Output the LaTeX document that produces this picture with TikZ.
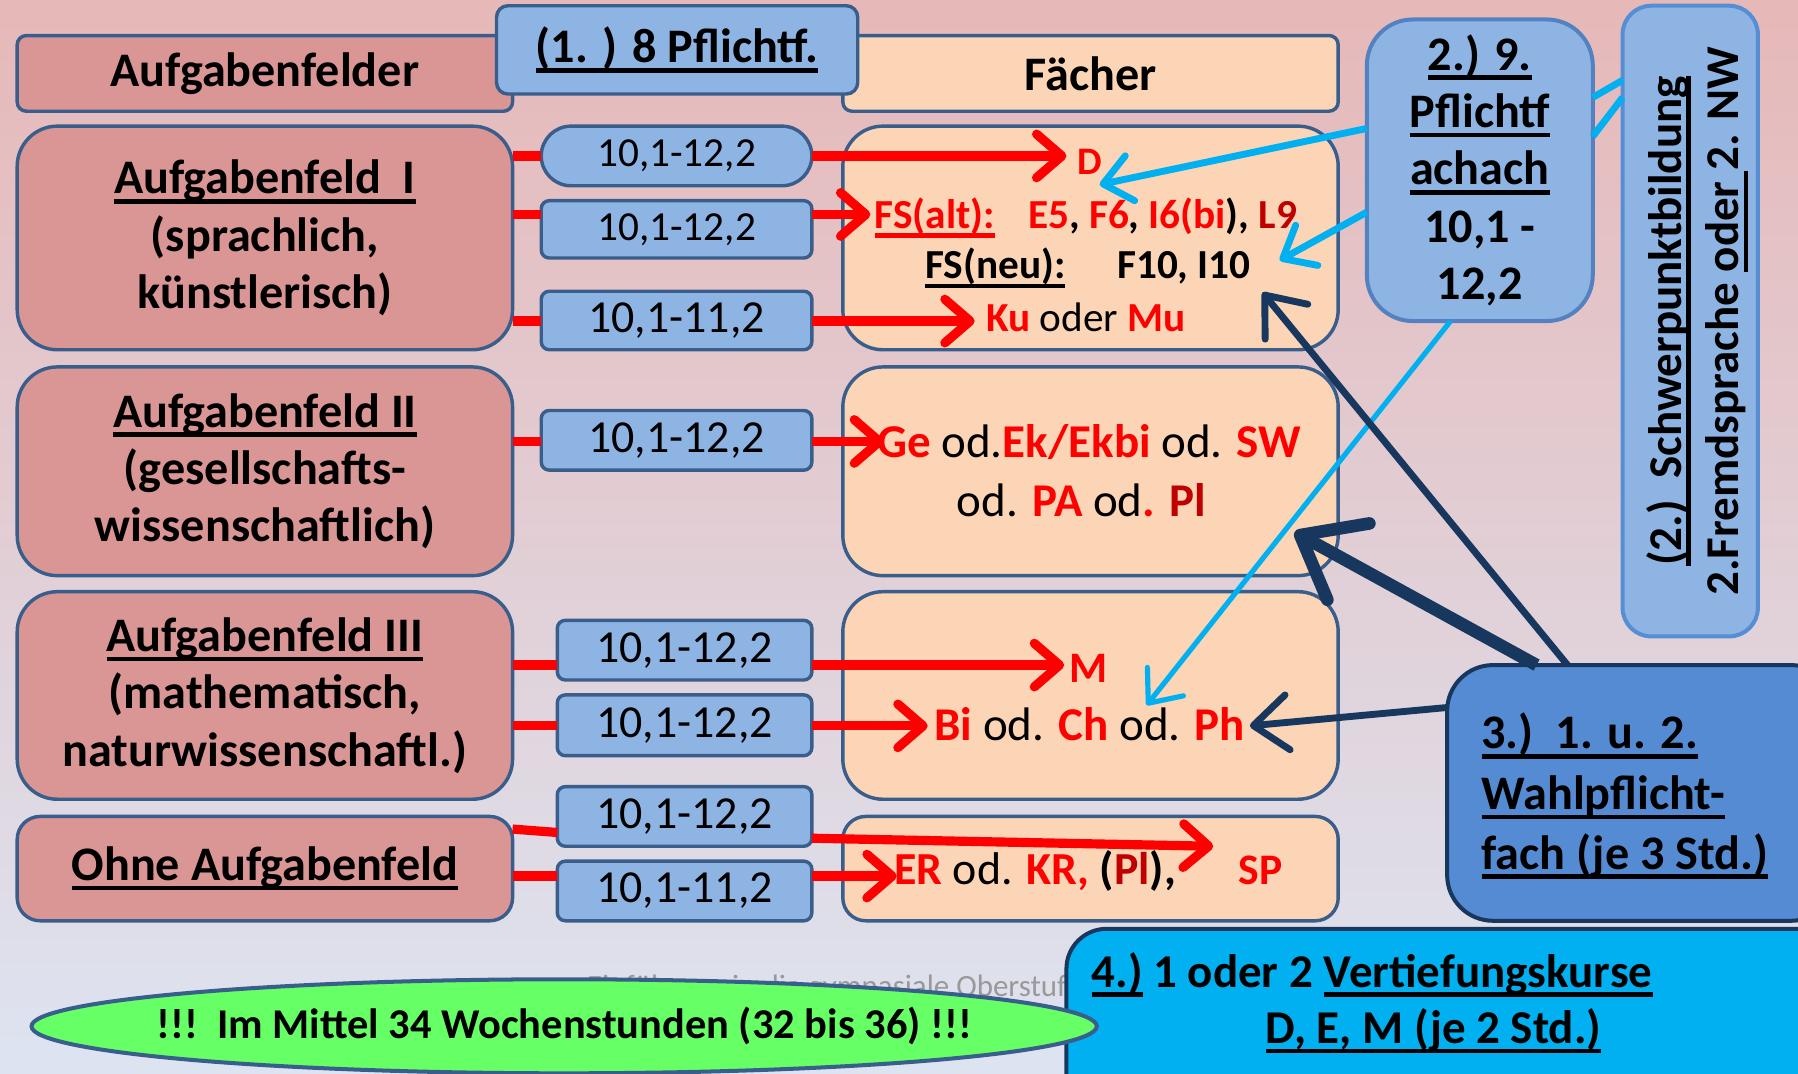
\documentclass[tikz,border=0pt]{standalone}
\usepackage{fontspec}
\setmainfont{Carlito}
\usetikzlibrary{arrows.meta,shapes.geometric}
\definecolor{bgtop}{RGB}{230,184,184}
\definecolor{bgmid}{RGB}{227,201,206}
\definecolor{bgbot}{RGB}{221,228,241}
\definecolor{bord}{HTML}{3A5E8C}
\definecolor{rosefill}{HTML}{D99694}
\definecolor{peachfill}{HTML}{FBD5B5}
\definecolor{lblue}{HTML}{8EB4E3}
\definecolor{pbord}{HTML}{5482C0}
\definecolor{vbord}{HTML}{558ED5}
\definecolor{mblue}{HTML}{558BD3}
\definecolor{navy}{HTML}{17375E}
\definecolor{cyanc}{HTML}{00B0F0}
\definecolor{greenc}{HTML}{66FF66}
\definecolor{dred}{HTML}{C00000}
\newcommand{\myul}[1]{\begingroup\setbox0=\hbox{#1}\rlap{\rule[-8.5pt]{\wd0}{4pt}}\box0\endgroup}
\newcommand{\rd}[1]{\textcolor{red}{#1}}
\newcommand{\drd}[1]{\textcolor{dred}{#1}}
\newcommand{\rgl}[1]{{\mdseries #1}}
\begin{document}
\begin{tikzpicture}[x=1pt,y=-1pt,
  bx/.style={draw=bord, line width=3pt, anchor=north west, inner sep=0pt, outer sep=0pt},
  hb/.style={font=\fontsize{42}{50}\selectfont\bfseries},
  yr/.style={bx, fill=lblue, rounded corners=7pt},
  yrs/.style={font=\fontsize{36}{44}\selectfont},
  yrl/.style={font=\fontsize{40}{48}\selectfont},
  txt/.style={inner sep=0pt, outer sep=0pt, anchor=base west},
  redl/.style={draw=red, line width=8pt},
  redarr/.style={redl, -{Straight Barb[length=22pt,width=38pt,round]}},
  cyarr/.style={draw=cyanc, line width=6pt, -{Straight Barb[length=24pt,width=40pt,round]}},
  cyl/.style={draw=cyanc, line width=6pt},
  navarr/.style={draw=navy, line width=6pt, -{Straight Barb[length=30pt,width=48pt,round]}},
  navthick/.style={draw=navy, line width=11pt, -{Straight Barb[length=48pt,width=76pt,round]}}
]
\useasboundingbox (0,0) rectangle (1568,936);
\clip (0,0) rectangle (1568,936);
\shade[top color=bgtop, middle color=bgmid, bottom color=bgbot] (0,0) rectangle (1568,936);

% headers
\node[bx, fill=rosefill, rounded corners=8pt, minimum width=432pt, minimum height=66pt, hb] (hAF) at (15,31) {Aufgabenfelder};
\node[bx, fill=peachfill, rounded corners=8pt, minimum width=432pt, minimum height=66pt, hb] (hF) at (735,31) {Fächer};
\node[bx, fill=lblue, rounded corners=10pt, minimum width=315pt, minimum height=77pt, hb] (hP) at (433,5) {\myul{(1. ) 8 Pflichtf.}};

% Aufgabenfeld boxes
\node[bx, fill=rosefill, rounded corners=35pt, minimum width=432pt, minimum height=195pt, hb, align=center] (af1) at (15,110) {\myul{Aufgabenfeld\ \ I}\\(sprachlich,\\künstlerisch)};
\node[bx, fill=rosefill, rounded corners=35pt, minimum width=432pt, minimum height=182pt, hb, align=center] (af2) at (15,320) {\myul{Aufgabenfeld II}\\(gesellschafts-\\wissenschaftlich)};
\node[bx, fill=rosefill, rounded corners=35pt, minimum width=432pt, minimum height=181pt, hb, align=center] (af3) at (15,516) {\myul{Aufgabenfeld III}\\(mathematisch,\\naturwissenschaftl.)};
\node[bx, fill=rosefill, rounded corners=20pt, minimum width=432pt, minimum height=91pt, hb] (af4) at (15,712) {\myul{Ohne Aufgabenfeld}};

% Faecher boxes
\node[bx, fill=peachfill, rounded corners=35pt, minimum width=432pt, minimum height=195pt] (fb1) at (735,110) {};
\node[bx, fill=peachfill, rounded corners=35pt, minimum width=432pt, minimum height=182pt] (fb2) at (735,320) {};
\node[bx, fill=peachfill, rounded corners=35pt, minimum width=432pt, minimum height=181pt] (fb3) at (735,516) {};
\node[bx, fill=peachfill, rounded corners=20pt, minimum width=432pt, minimum height=91pt] (fb4) at (735,712) {};

% year boxes
\node[yr, rounded corners=26pt, minimum width=236pt, minimum height=52pt, yrs] (y11) at (472,110) {10,1-12,2};
\node[yr, minimum width=236pt, minimum height=50pt, yrs] (y12) at (472,175) {10,1-12,2};
\node[yr, minimum width=236pt, minimum height=51pt, yrl] (y13) at (472,254) {10,1-11,2};
\node[yr, minimum width=236pt, minimum height=52pt, yrl] (y21) at (472,358) {10,1-12,2};
\node[yr, minimum width=222pt, minimum height=52pt, yrl] (y31) at (486,541) {10,1-12,2};
\node[yr, minimum width=222pt, minimum height=53pt, yrl] (y32) at (486,606) {10,1-12,2};
\node[yr, minimum width=222pt, minimum height=52pt, yrl] (y41) at (486,686) {10,1-12,2};
\node[yr, minimum width=222pt, minimum height=52pt, yrl] (y42) at (486,751) {10,1-11,2};

% subject texts
\node[txt, font=\fontsize{34}{40}\selectfont\bfseries, text=red] (tD) at (940,152) {D};
\node[txt, font=\fontsize{36}{44}\selectfont\bfseries] (tFSa) at (763,199) {\rd{\myul{FS(alt):}}\hspace*{29pt}\rd{E5}, \rd{F6}, \rd{I6(bi}), \drd{L9}};
\node[txt, font=\fontsize{36}{44}\selectfont\bfseries] (tFSn) at (807,243) {\myul{FS(neu):}\hspace*{45pt}F10, I10};
\node[txt, font=\fontsize{36}{44}\selectfont\bfseries] (tKu) at (860,289) {\rd{Ku} \rgl{oder} \rd{Mu}};
\node[txt, font=\fontsize{41}{48}\selectfont\bfseries] (tGe) at (765,399) {\rd{Ge} \rgl{od.}\rd{Ek/Ekbi} \rgl{od.} \rd{SW}};
\node[inner sep=0pt, anchor=base, font=\fontsize{41}{48}\selectfont\bfseries] (tPA) at (943,450) {\rgl{od.} \rd{PA} \rgl{od}\rd{.} \drd{Pl}};
\node[txt, font=\fontsize{38}{44}\selectfont\bfseries, text=red] (tM) at (933,595) {M};
\node[txt, font=\fontsize{41}{48}\selectfont\bfseries] (tBi) at (815,646) {\rd{Bi} \rgl{od.} \rd{Ch} \rgl{od.} \rd{Ph}};
\node[txt, font=\fontsize{40}{48}\selectfont\bfseries] (tER) at (780,771) {\rd{ER} \rgl{od.} \rd{KR,} (\drd{Pl}),};
\node[txt, font=\fontsize{38}{44}\selectfont\bfseries, text=red] (tSP) at (1080,771) {SP};

% red connectors
\draw[redl] (af1.east |- y11.west) -- (y11.west);
\draw[redarr] (y11.east) -- ([xshift=-10pt]tD.west |- y11.east);
\draw[redl] (af1.east |- 0,187) -- (y12.west |- 0,187);
\draw[redarr] (y12.east |- 0,187) -- ([xshift=-4pt]tFSa.west |- 0,187);
\draw[redl] (af1.east |- 0,280) -- (y13.west |- 0,280);
\draw[redarr] (y13.east |- 0,280) -- ([xshift=-10pt]tKu.west |- 0,280);
\draw[redl] (af2.east |- 0,385) -- (y21.west |- 0,385);
\draw[redarr] (y21.east |- 0,385) -- ([xshift=6pt]tGe.west |- 0,385);
\draw[redl] (af3.east |- 0,580) -- (y31.west |- 0,580);
\draw[redarr] (y31.east |- 0,580) -- ([xshift=-5pt]tM.west |- 0,580);
\draw[redl] (af3.east |- 0,633) -- (y32.west |- 0,633);
\draw[redarr] (y32.east |- 0,633) -- ([xshift=-6pt]tBi.west |- 0,633);
\draw[redl] (af4.east |- 0,723) -- (y41.west |- 0,726);
\coordinate (spin) at (1058,738);
\draw[redarr] (y41.east |- 0,731) -- (spin);
\draw[redl] (af4.east |- 0,764) -- (y42.west |- 0,764);
\draw[redarr] (y42.east |- 0,764) -- ([xshift=2pt]tER.west |- 0,764);

% right column boxes
\node[bx, draw=pbord, line width=3.5pt, fill=lblue, rounded corners=40pt, minimum width=197pt, minimum height=263pt, hb, align=center] (p2) at (1192,17) {\myul{2.) 9.}\\\myul{Pflichtf}\\\myul{achach}\\10,1 -\\12,2};
\node[bx, draw=vbord, line width=3.5pt, fill=lblue, rounded corners=25pt, minimum width=118pt, minimum height=550pt] (vb) at (1415,5) {};
\node[rotate=90, font=\fontsize{41}{50}\selectfont\bfseries, align=center, inner sep=0pt] (vbt) at (1480,280) {\myul{(2.)\ \ Schwerpunktbildung}\\2.Fremdsprache \myul{oder }2. NW};

% cyan connectors
\draw[cyl] (vb.west |- 0,70) -- (p2.east |- 0,85);
\draw[cyl] (vb.west |- 0,85) -- (p2.east |- 0,119);
\coordinate (cD) at (959,161);
\coordinate (cF) at (1116,227);
\coordinate (cB) at (1000,615);
\draw[cyarr] (p2.west |- 0,112) -- (cD);
\draw[cyarr] (p2.west |- 0,185) -- (cF);
\draw[cyarr, line width=4.5pt] ([xshift=73pt]p2.south west) -- (cB);

% 3.) box and navy arrows
\coordinate (nI) at (1101,255);
\coordinate (nII) at (1129,464);
\coordinate (nPh) at (1090,633);
\node[bx, draw=navy, line width=3.5pt, fill=mblue, rounded corners=40pt, minimum width=340pt, minimum height=223pt] (n3) at (1262,580) {};
\draw[navarr] ([xshift=105pt]n3.north west) -- (nI);
\draw[navthick] ([xshift=78pt]n3.north west) -- (nII);
\draw[navarr] (n3.west |- 0,617) -- (nPh);
\node[txt, hb] (t3a) at (1292,653) {\myul{3.)\ \ 1. u. 2.}};
\node[txt, hb] (t3b) at (1292,706) {\myul{Wahlpflicht-}};
\node[txt, hb] (t3c) at (1292,758) {\myul{fach (je 3 Std.)}};

% footer (mostly hidden)
\node[txt, text=black!40, font=\fontsize{27}{32}\selectfont] (foot) at (512,869) {Einführung in die gymnasiale Oberstufe};

% 4.) box
\node[bx, draw=navy, line width=3.5pt, fill=cyanc, rounded corners=35pt, minimum width=700pt, minimum height=180pt] (n4) at (930,810) {};
\node[txt, font=\fontsize{41}{48}\selectfont\bfseries] (t4a) at (952,861) {\myul{4.)} 1 oder 2 \myul{Vertiefungskurse}};
\node[inner sep=0pt, anchor=base, font=\fontsize{41}{48}\selectfont\bfseries] (t4b) at (1250,910) {\myul{D, E, M (je 2 Std.)}};

% ellipse
\node[ellipse, draw=bord, line width=3.5pt, fill=greenc, minimum width=929pt, minimum height=82pt, inner sep=0pt] (ell) at (492,895) {};
\node[inner sep=0pt, font=\fontsize{37}{44}\selectfont\bfseries] (tell) at (ell.center) {!!!\ \ Im Mittel 34 Wochenstunden (32 bis 36) !!!};
\end{tikzpicture}
\end{document}
